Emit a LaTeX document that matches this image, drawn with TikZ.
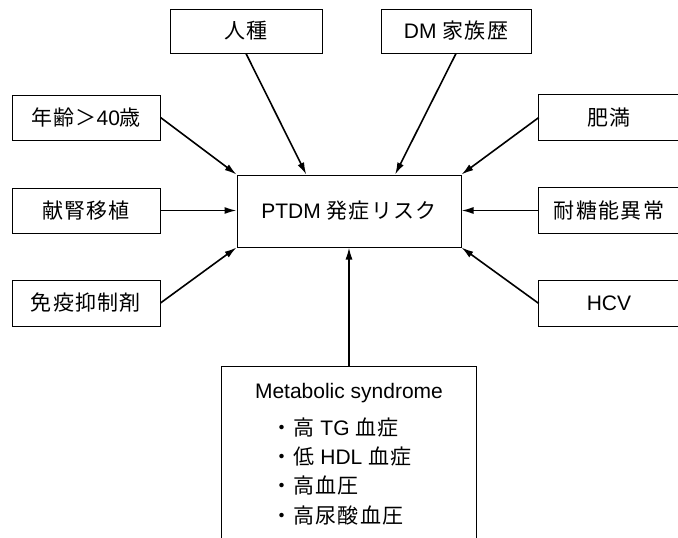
\documentclass[tikz,border=0pt]{standalone}
\usepackage{fontspec}
\setmainfont{Liberation Sans}
\newfontfamily\jp[LetterSpace=6]{Noto Sans CJK JP}
\usetikzlibrary{arrows.meta,calc}
\begin{document}
\begin{tikzpicture}[x=1pt,y=-1pt,
  box/.style={draw, line width=1pt, inner sep=0pt},
  openbox/.style={inner sep=0pt},
  lbl/.style={font=\fontsize{21}{24}\selectfont},
  arr/.style={line width=1.6pt, -{Latex[length=12pt,width=7pt]}},
  side/.style={line width=1pt}]
\useasboundingbox (0,0) rectangle (678,538);

% top boxes
\node[box, lbl, minimum width=152pt, minimum height=44pt] (jinshu) at (246,31) {\jp 人種};
\node[box, lbl, minimum width=150pt, minimum height=44pt] (dm) at (456,31) {DM {\jp 家族歴}};
% left boxes
\node[box, lbl, minimum width=148pt, minimum height=45pt] (age) at (86,117.5) {{\jp 年齢＞}40{\jp 歳}};
\node[box, lbl, minimum width=148pt, minimum height=45pt] (kenjin) at (86,210.5) {\jp 献腎移植};
\node[box, lbl, minimum width=148pt, minimum height=46pt] (meneki) at (86,303) {\jp 免疫抑制剤};
% center
\node[box, lbl, minimum width=224pt, minimum height=72pt] (ptdm) at (349,211) {PTDM {\jp 発症リスク}};
% right boxes (open at the image edge)
\node[openbox, lbl, minimum width=140pt, minimum height=45pt] (himan) at (609,117.5) {\jp 肥満};
\node[openbox, lbl, minimum width=140pt, minimum height=45pt] (taito) at (609,210.5) {\jp 耐糖能異常};
\node[openbox, lbl, minimum width=140pt, minimum height=45pt] (hcv) at (609,303.5) {HCV};
\foreach \n in {himan,taito,hcv}
  \draw[side] (\n.north east) -- (\n.north west) -- (\n.south west) -- (\n.south east);
% metabolic syndrome box (open at the bottom)
\node[openbox, minimum width=254pt, minimum height=180pt] (ms) at (349,457) {};
\draw[side] (ms.south west) -- (ms.north west) -- (ms.north east) -- (ms.south east);
\node[lbl] (mstitle) at (349,393) {Metabolic syndrome};
\node[lbl, anchor=west, inner sep=0pt] (ms1) at (271,428) {\jp ・高 \normalfont TG {\jp 血症}};
\node[lbl, anchor=west, inner sep=0pt] (ms2) at (271,457) {\jp ・低 \normalfont HDL {\jp 血症}};
\node[lbl, anchor=west, inner sep=0pt] (ms3) at (271,486) {\jp ・高血圧};
\node[lbl, anchor=west, inner sep=0pt] (ms4) at (271,515) {\jp ・高尿酸血圧};

% connectors
\draw[arr] (jinshu.south) -- ($(ptdm.north west)!0.31!(ptdm.north east)$);
\draw[arr] (dm.south) -- ($(ptdm.north west)!0.705!(ptdm.north east)$);
\draw[arr] (age.east) -- (ptdm.north west);
\draw[arr] (kenjin.east) -- (ptdm.west |- kenjin.east);
\draw[arr] (meneki.east) -- (ptdm.south west);
\draw[arr] (himan.west) -- (ptdm.north east);
\draw[arr] (taito.west) -- (ptdm.east |- taito.west);
\draw[arr] (hcv.west) -- (ptdm.south east);
\draw[arr] (ms.north) -- (ptdm.south);
\end{tikzpicture}
\end{document}
